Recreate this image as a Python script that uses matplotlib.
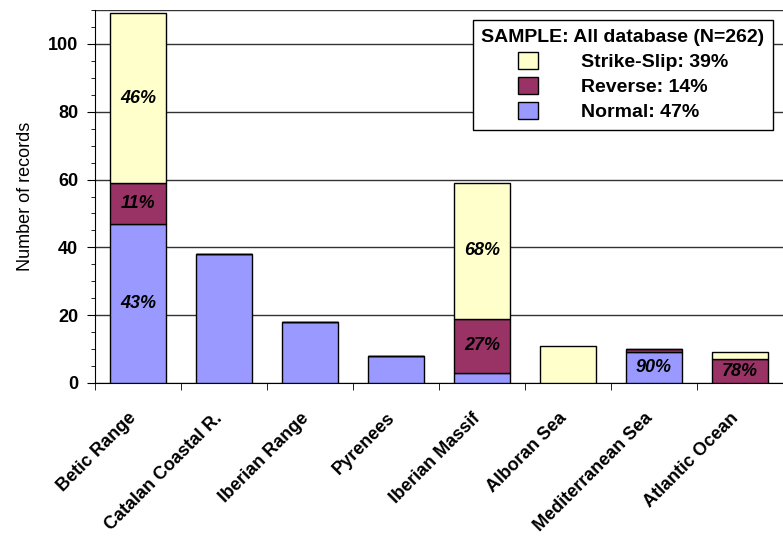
import matplotlib.pyplot as plt
import matplotlib.transforms as mtransforms
import numpy as np
from matplotlib.patches import Patch
from matplotlib.ticker import MultipleLocator

plt.rcParams['font.family'] = ['Liberation Sans', 'DejaVu Sans']

regions = ['Betic Range', 'Catalan Coastal R.', 'Iberian Range', 'Pyrenees',
           'Iberian Massif', 'Alboran Sea', 'Mediterranean Sea', 'Atlantic Ocean']
normal = [47, 38, 18, 8, 3, 0, 9, 0]
reverse = [12, 0, 0, 0, 16, 0, 1, 7]
strike = [50, 0, 0, 0, 40, 11, 0, 2]
# percent labels written inside the segments
normal_lbl = ['43%', '', '', '', '', '', '90%', '']
reverse_lbl = ['11%', '', '', '', '27%', '', '', '78%']
strike_lbl = ['46%', '', '', '', '68%', '', '', '']

c_normal = '#9999ff'
c_reverse = '#993366'
c_strike = '#ffffcc'

fig = plt.figure(figsize=(7.83, 5.42), dpi=100)
ax = fig.add_axes([0.1213, 0.2934, 0.8787, 0.6881])

x = np.arange(len(regions))
w = 0.66
normal = np.array(normal)
reverse = np.array(reverse)
strike = np.array(strike)
b1 = ax.bar(x, normal, w, color=c_normal, edgecolor='black', linewidth=1, zorder=3)
b2 = ax.bar(x, reverse, w, bottom=normal, color=c_reverse, edgecolor='black', linewidth=1, zorder=3)
b3 = ax.bar(x, strike, w, bottom=normal + reverse, color=c_strike, edgecolor='black', linewidth=1, zorder=3)

for bars, lbl in [(b1, normal_lbl), (b2, reverse_lbl), (b3, strike_lbl)]:
    ax.bar_label(bars, labels=lbl, label_type='center', fontsize=13,
                 fontweight='bold', fontstyle='italic', zorder=4)

ax.set_xlim(-0.5, len(regions) - 0.5)
ax.set_ylim(0, 110)
ax.yaxis.set_major_locator(MultipleLocator(20))
ax.yaxis.set_minor_locator(MultipleLocator(5))
ax.yaxis.grid(True, which='major', color='#333333', linewidth=1, zorder=0)
ax.set_axisbelow(True)

ax.set_xticks(x)
ax.set_xticklabels(regions, rotation=45, ha='right', rotation_mode='anchor',
                   fontsize=13, fontweight='bold')
ax.set_xticks(np.arange(len(regions) + 1) - 0.5, minor=True)
ax.tick_params(axis='x', which='major', length=0, pad=12)
ax.tick_params(axis='x', which='minor', length=5, direction='out')
# nudge the slanted labels a bit left/down, like the original
shift = mtransforms.ScaledTranslation(-0.1, -0.1, fig.dpi_scale_trans)
for t in ax.get_xticklabels():
    t.set_transform(t.get_transform() + shift)
ax.tick_params(axis='y', which='major', length=6, labelsize=13, pad=6)
ax.tick_params(axis='y', which='minor', length=3)
for t in ax.get_yticklabels():
    t.set_fontweight('bold')

ax.set_ylabel('Number of records', fontsize=13, labelpad=10)
for s in ['top', 'right']:
    ax.spines[s].set_visible(False)
ax.axhline(110, color='#333333', linewidth=1, zorder=1)

handles = [Patch(facecolor=c_strike, edgecolor='black'),
           Patch(facecolor=c_reverse, edgecolor='black'),
           Patch(facecolor=c_normal, edgecolor='black')]
labels = ['Strike-Slip: 39%', 'Reverse: 14%', 'Normal: 47%']
leg = ax.legend(handles, labels, title='SAMPLE: All database (N=262)',
                loc='upper right', bbox_to_anchor=(0.986, 0.973),
                fancybox=False, edgecolor='black', framealpha=1,
                prop={'weight': 'bold', 'size': 14},
                title_fontproperties={'weight': 'bold', 'size': 14},
                handlelength=1.0, handleheight=1.0, handletextpad=2.2,
                borderpad=0.45, labelspacing=0.3, borderaxespad=0)
leg.get_frame().set_linewidth(1)
leg.set_zorder(5)

plt.savefig('out.png', dpi=100)
